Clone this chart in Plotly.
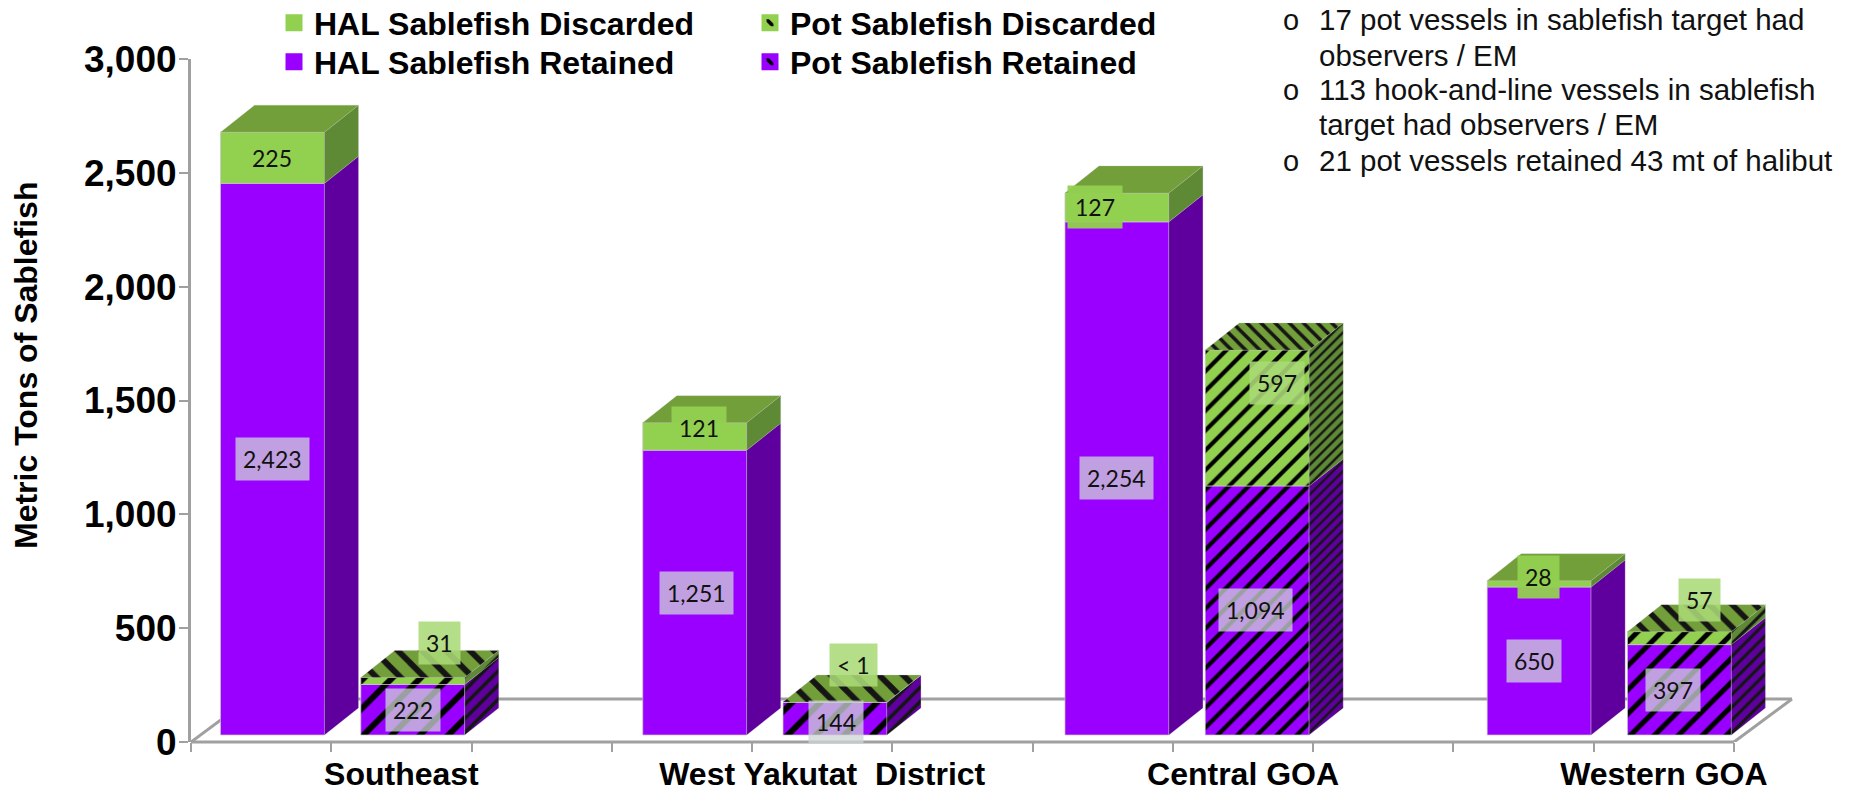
import plotly.graph_objects as go

# ---- data ----
categories = ["Southeast", "West Yakutat  District", "Central GOA", "Western GOA"]
hal_retained = [2423, 1251, 2254, 650]
hal_discarded = [225, 121, 127, 28]
pot_retained = [222, 144, 1094, 397]
pot_discarded = [31, 0.5, 597, 57]
y_ticks = [0, 500, 1000, 1500, 2000, 2500, 3000]
notes = [
    ("o", "17 pot vessels in sablefish target had", 20),
    ("", "observers / EM", 55),
    ("o", "113 hook-and-line vessels in sablefish", 90),
    ("", "target had observers / EM", 125),
    ("o", "21 pot vessels retained 43 mt of halibut", 161),
]

# ---- styles / geometry ----
PURPLE, PURPLE_SIDE = "#9900FF", "#5F009E"
GREEN, GREEN_TOP, GREEN_SIDE = "#92D050", "#739F3A", "#5F8A35"
AXIS = "#A0A0A0"
FONT = "Liberation Sans"
LABEL_FONT = "Lato"

W, H = 1851, 794
PX_L, PX_R_TICK, PX_T, PX_B = 191, 1734, 59, 742
slot_px = (PX_R_TICK - PX_L) / 11
unit_px = (PX_B - PX_T) / 3000
x_max = (W - PX_L) / slot_px
bar_w = 0.741
bar_off = 0.581
group_step = 3.01
floor_base = 7 / unit_px      # bars stand a little behind the front axis
depth_x = 34 / slot_px
depth_y = 27 / unit_px
floor_dx = 58 / slot_px
floor_dy = 43 / unit_px

hal_x = [i * group_step + bar_off for i in range(len(categories))]
pot_x = [i * group_step + 1 + bar_off for i in range(len(categories))]
base = [floor_base] * len(categories)

# stripe sizes per bar (the reference stretches its hatch with the bar)
front_stripe = [20, 20, 14, 17]
side_stripe = [10, 10, 7, 9]
top_stripe = [17, 17, 10, 16]


def add(a, b):
    return [p + q for p, q in zip(a, b)]


hal_mid = add(base, hal_retained)
pot_mid = add(base, pot_retained)
hal_top = add(hal_mid, hal_discarded)
pot_top = add(pot_mid, pot_discarded)


def side(xs, lo, hi):
    px, py = [], []
    for x, a, b in zip(xs, lo, hi):
        r = x + bar_w / 2
        px += [r, r, r + depth_x, r + depth_x, r, None]
        py += [a, b, b + depth_y, a + depth_y, a, None]
    return px, py


def top(xs, tops):
    px, py = [], []
    for x, t in zip(xs, tops):
        l, r = x - bar_w / 2, x + bar_w / 2
        px += [l, r, r + depth_x, l + depth_x, l, None]
        py += [t, t, t + depth_y, t + depth_y, t, None]
    return px, py


EDGE = dict(color="rgba(200,200,200,0.7)", width=1)
fig = go.Figure()


def front(xs, vals, bases, color, pattern):
    marker = dict(color=color, line=EDGE)
    if pattern:
        marker["pattern"] = dict(shape="/", fgcolor="black", bgcolor=color,
                                 size=front_stripe, solidity=0.3, fgopacity=1)
    fig.add_bar(x=xs, y=vals, base=bases, width=bar_w, marker=marker,
                showlegend=False, hoverinfo="skip", cliponaxis=False)


front(hal_x, hal_retained, base, PURPLE, False)
front(hal_x, hal_discarded, hal_mid, GREEN, False)
front(pot_x, pot_retained, base, PURPLE, True)
front(pot_x, pot_discarded, pot_mid, GREEN, True)


def face(poly, color, pattern=None, size=10):
    kw = {}
    if pattern:
        kw["fillpattern"] = dict(shape=pattern, fgcolor="#151515", bgcolor=color,
                                 size=size, solidity=0.35, fgopacity=1)
    fig.add_scatter(x=poly[0], y=poly[1], mode="lines", fill="toself", fillcolor=color,
                    line=dict(color="rgba(190,190,190,0.5)", width=0.5),
                    showlegend=False, hoverinfo="skip", **kw)


face(side(hal_x, base, hal_mid), PURPLE_SIDE)
face(side(hal_x, hal_mid, hal_top), GREEN_SIDE)
face(top(hal_x, hal_top), GREEN_TOP)
for i in range(len(categories)):
    x1 = [pot_x[i]]
    face(side(x1, [base[i]], [pot_mid[i]]), PURPLE_SIDE, "/", side_stripe[i])
    face(side(x1, [pot_mid[i]], [pot_top[i]]), GREEN_SIDE, "/", side_stripe[i])
    face(top(x1, [pot_top[i]]), GREEN_TOP, "\\", top_stripe[i])

# legend entries: each in its own single-row legend so the row spacing matches
legend_entries = [
    ("HAL Sablefish Discarded", GREEN, False, "legend"),
    ("HAL Sablefish Retained", PURPLE, False, "legend2"),
    ("Pot Sablefish Discarded", GREEN, True, "legend3"),
    ("Pot Sablefish Retained", PURPLE, True, "legend4"),
]
for name, color, patterned, leg in legend_entries:
    marker = dict(color=color, line=dict(color=color, width=5))
    if patterned:
        marker["pattern"] = dict(shape="\\", fgcolor="black", bgcolor=color,
                                 size=10, solidity=0.45, fgopacity=1)
    fig.add_bar(x=[None], y=[None], name=name, marker=marker, hoverinfo="skip",
                legend=leg, showlegend=True)

# ---- data labels ----
BOX_PURPLE = "rgba(205,213,213,0.75)"
BOX_HAL = "rgba(146,208,80,0.95)"
BOX_POT = "rgba(170,218,118,0.88)"


def label(x, y, value, bg, dx=0, dy=0):
    text = "< 1" if value < 1 else f"{value:,}"
    fig.add_annotation(x=x, y=y, xref="x", yref="y", text=text, showarrow=False,
                       xshift=dx, yshift=dy, bgcolor=bg, borderpad=7,
                       font=dict(family=LABEL_FONT, size=23, color="#111111"))


hal_ret_dx = [0, 2, 0, -5]
hal_disc_dx, hal_disc_dy = [-1, 4, -22, -1], [0, 8, 0, 7]
pot_disc_dx, pot_disc_dy = [27, 19, 20, 20], [38, 37, 35, 38]
pot_ret_dx, pot_ret_dy = [0, 1, -2, -6], [0, -3, 0, 0]
for i in range(len(categories)):
    label(hal_x[i], floor_base + hal_retained[i] / 2, hal_retained[i], BOX_PURPLE, hal_ret_dx[i])
    label(hal_x[i], hal_mid[i] + hal_discarded[i] / 2, hal_discarded[i], BOX_HAL,
          hal_disc_dx[i], hal_disc_dy[i])
    label(pot_x[i], floor_base + pot_retained[i] / 2, pot_retained[i], BOX_PURPLE,
          pot_ret_dx[i], pot_ret_dy[i])
    label(pot_x[i], pot_mid[i] + pot_discarded[i] / 2, pot_discarded[i], BOX_POT,
          pot_disc_dx[i], pot_disc_dy[i])

# ---- notes at top right ----
plot_w, plot_h = W - PX_L, PX_B - PX_T
for bullet, line, py in notes:
    if bullet:
        fig.add_annotation(x=(1291 - PX_L) / plot_w, y=(PX_B - py) / plot_h, xref="paper", yref="paper",
                           text=bullet, showarrow=False, xanchor="center", yanchor="middle",
                           font=dict(family=FONT, size=29, color="#111111"))
    fig.add_annotation(x=(1320 - PX_L) / plot_w, y=(PX_B - py) / plot_h, xref="paper", yref="paper",
                       text=line, showarrow=False, xanchor="left", yanchor="middle", xshift=-3,
                       font=dict(family=FONT, size=29.5, color="#111111"))

# y-axis title, placed as in the reference (above the axis middle)
fig.add_annotation(x=(26 - PX_L) / plot_w, y=(PX_B - 366) / plot_h, xref="paper", yref="paper",
                   text="<b>Metric Tons of Sablefish</b>", textangle=-90, showarrow=False,
                   xanchor="center", yanchor="middle",
                   font=dict(family=FONT, size=32, color="black"))

# ---- floor of the 3-D box ----
floor = [
    dict(x0=0, x1=11, y0=0, y1=0, yref="paper"),
    dict(x0=0, x1=floor_dx, y0=0, y1=floor_dy, yref="y"),
    dict(x0=11, x1=11 + floor_dx, y0=0, y1=floor_dy, yref="y"),
    dict(x0=floor_dx, x1=11 + floor_dx, y0=floor_dy, y1=floor_dy, yref="y"),
]
for f in floor:
    fig.add_shape(type="line", xref="x", layer="below", line=dict(color=AXIS, width=3), **f)

legend_style = dict(orientation="v", yanchor="top", xanchor="left", xref="paper", yref="paper",
                    font=dict(family=FONT, size=32, color="black", weight="bold"),
                    bgcolor="rgba(0,0,0,0)", itemclick=False, itemdoubleclick=False)
ROW1, ROW2 = (PX_B + 4.5) / plot_h, (PX_B - 34.5) / plot_h

fig.update_layout(
    width=W, height=H, barmode="overlay", plot_bgcolor="white", paper_bgcolor="white",
    margin=dict(l=PX_L, r=0, t=PX_T, b=H - PX_B, autoexpand=False),
    font=dict(family=FONT, color="black"),
    legend=dict(x=(274 - PX_L) / plot_w, y=ROW1, **legend_style),
    legend2=dict(x=(274 - PX_L) / plot_w, y=ROW2, **legend_style),
    legend3=dict(x=(750 - PX_L) / plot_w, y=ROW1, **legend_style),
    legend4=dict(x=(750 - PX_L) / plot_w, y=ROW2, **legend_style),
    xaxis=dict(range=[0, x_max], showgrid=False, zeroline=False, showline=False,
               tickmode="array", tickvals=[i * 3 + 1.5 for i in range(len(categories))],
               ticktext=categories, ticks="", ticklabelstandoff=10,
               tickfont=dict(family=FONT, size=32, color="black", weight="bold"),
               minor=dict(tickmode="array", tickvals=list(range(12)), ticks="outside",
                          ticklen=9, tickwidth=2, tickcolor=AXIS, showgrid=False)),
    yaxis=dict(range=[0, 3000], tickmode="array", tickvals=y_ticks, tickformat=",", showgrid=False,
               zeroline=False, showline=True, linecolor=AXIS, linewidth=3,
               ticks="outside", ticklen=9, tickwidth=2, tickcolor=AXIS, ticklabelstandoff=-5,
               tickfont=dict(family=FONT, size=37, color="black", weight="bold")),
)

fig.write_html("out.html", config=dict(displayModeBar=False),
               post_script="document.body.style.margin='0';document.body.style.overflow='hidden';")
